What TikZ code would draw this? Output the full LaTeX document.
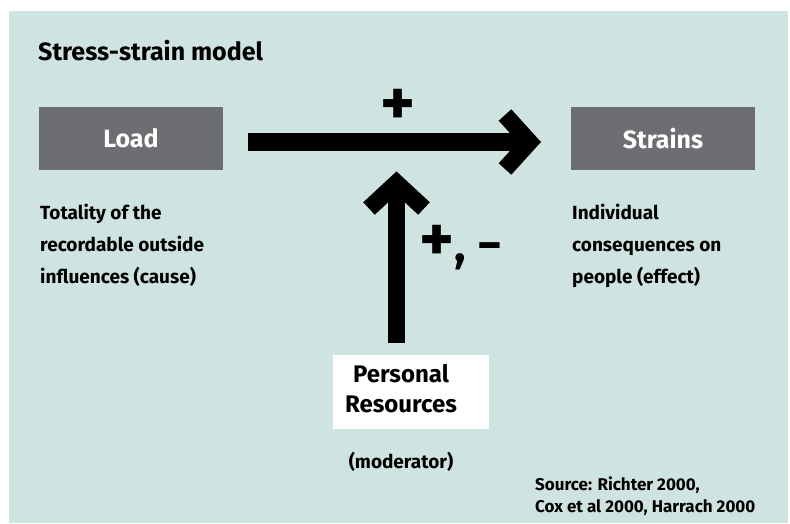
\documentclass[tikz,border=0pt]{standalone}
\usepackage{fontspec}
\setmainfont{Fira Sans}
\definecolor{bgteal}{HTML}{CFE4E0}
\definecolor{boxgray}{HTML}{6D6E71}
\tikzset{
  graybox/.style={fill=boxgray, text=white, minimum width=184pt, minimum height=63pt, inner sep=0pt, font=\fontsize{25}{28}\selectfont\bfseries},
  desc/.style={anchor=base west, inner sep=0pt, align=left, font=\fontsize{19}{32}\selectfont\bfseries},
  fat/.style={line width=18pt, line cap=butt},
  chevron/.style={line width=17pt, line join=miter, miter limit=10},
  sign/.style={inner sep=0pt, font=\fontsize{66}{66}\selectfont\bfseries}
}
\begin{document}
\begin{tikzpicture}[x=1pt,y=-1pt]
\useasboundingbox (0,0) rectangle (790,523);
\fill[bgteal] (9,11) rectangle (788,523);
\node[anchor=base west, inner sep=0pt, font=\fontsize{25}{28}\selectfont\bfseries] (title) at (38,60) {Stress-strain model};
\node[graybox] (load) at (131,138.5) {Load};
\node[graybox] (strains) at (663,138.5) {Strains};
\node[desc] (cause) at (40,283) {Totality of the\\recordable outside\\influences (cause)};
\node[desc] (effect) at (572,283) {Individual\\consequences on\\people (effect)};
\node[fill=white, minimum width=156pt, minimum height=74pt, inner sep=0pt] (res) at (411,392) {};
\node[inner sep=0pt, align=center, font=\fontsize{24}{30}\selectfont\bfseries, anchor=base] (restext) at (401,412) {Personal\\Resources};
\node[inner sep=0pt, font=\fontsize{19}{20}\selectfont\bfseries, anchor=base] (mod) at (401,468) {(moderator)};
\node[anchor=base west, inner sep=0pt, align=left, font=\fontsize{17}{22}\selectfont\bfseries] (src) at (535,512) {Source: Richter 2000,\\Cox et al 2000, Harrach 2000};
% horizontal arrow
\coordinate (hs) at ([xshift=25pt]load.east |- 0,142);
\coordinate (hv) at (529.5,142);
\draw[fat] (hs) -- (hv);
\draw[chevron] (505,115) -- (hv) -- (505,169);
\node[sign] (plus) at (398,107) {+};
% vertical arrow
\coordinate (vs) at ([yshift=12pt]res.north -| 396.5,0);
\coordinate (vv) at (396.5,183);
\draw[fat, line width=17pt] (vs) -- (vv);
\draw[chevron] (369,208.5) -- (vv) -- (424,208.5);
\node[sign, anchor=west] (pm) at (419,248) {+{\fontsize{48}{48}\selectfont, −}};
\end{tikzpicture}
\end{document}
